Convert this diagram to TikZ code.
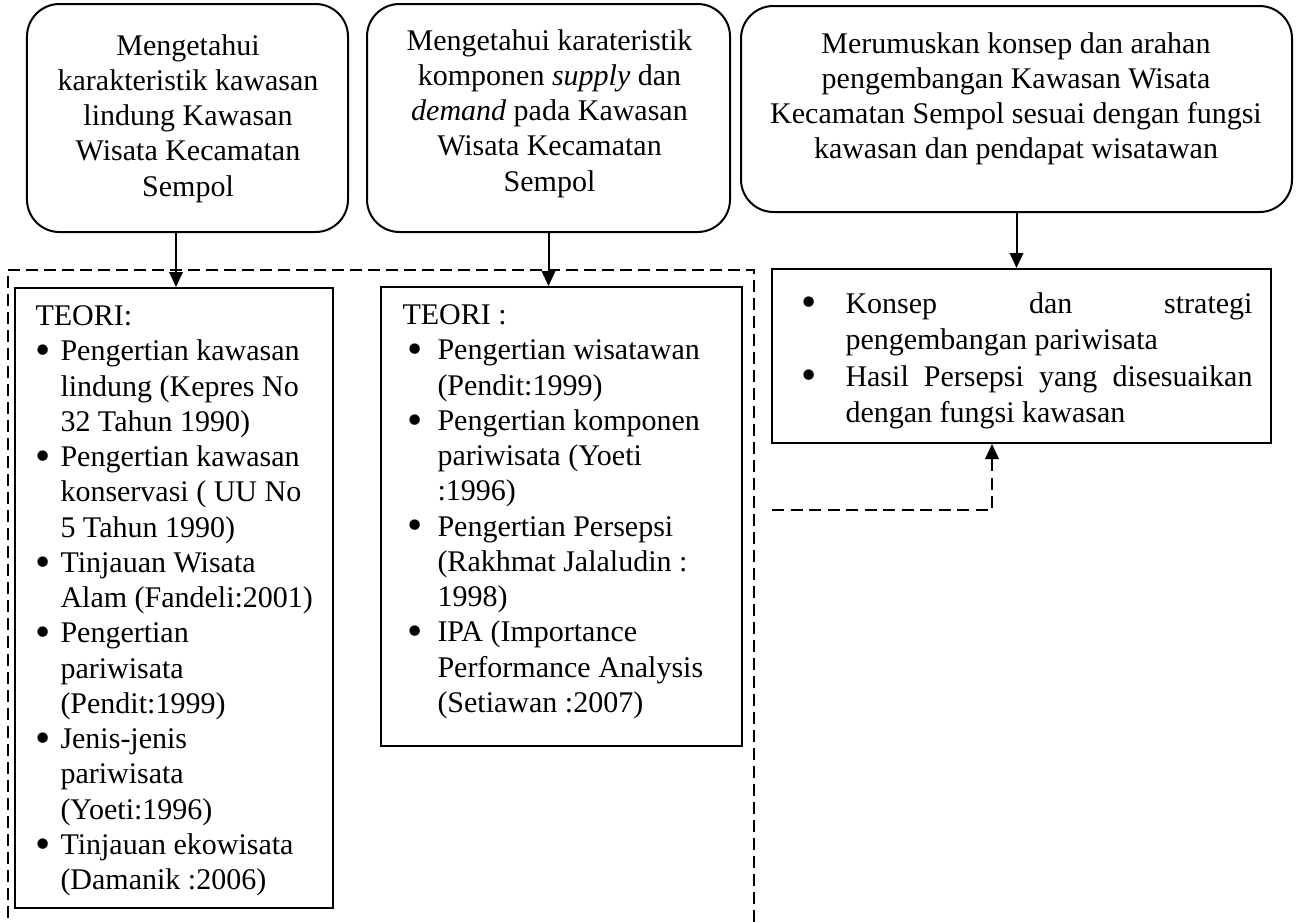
\documentclass[tikz,border=0pt]{standalone}
\usepackage{fontspec}
\setmainfont{Liberation Serif}
\usetikzlibrary{arrows.meta}
\newcommand\bodyfont{\fontsize{12}{14.1}\selectfont}
\newcommand\bodyfontb{\fontsize{12}{14.6}\selectfont}
\newcommand\bigbul{\raisebox{-1.5pt}{\scalebox{1.45}{\textbullet}}}
\newcommand\bl[2]{\hspace*{#1}\makebox[\dimexpr#2-#1\relax][l]{\bigbul}}
\newcommand\ct[1]{\hspace*{#1}}
\tikzset{
  rbox/.style={draw, line width=0.8pt, rounded corners=13pt, fill=white, inner sep=0pt},
  sbox/.style={draw, line width=0.8pt, fill=white, inner sep=0pt},
  txt/.style={inner sep=0pt, font=\bodyfont},
  arr/.style={line width=0.8pt, -{Triangle[length=6pt,width=5.4pt]}},
  darr/.style={line width=0.8pt, dash pattern=on 4.8pt off 2.6pt, -{Triangle[length=6pt,width=5.4pt]}},
  dline/.style={line width=0.6pt, dash pattern=on 4.8pt off 2.4pt}
}
\begin{document}
\begin{tikzpicture}[x=0.4pt,y=-0.4pt]
\useasboundingbox (0,0) rectangle (1299,921);
\fill[white] (0,0) rectangle (1299,921);

% dashed frame
\coordinate (F1) at (8,990);
\coordinate (F2) at (8,270);
\coordinate (F3) at (754,270);
\coordinate (F4) at (754,990);
\draw[dline] (F1) -- (F2) -- (F3) -- (F4);

% top rounded boxes
\node[rbox, minimum width=128.4pt, minimum height=91.2pt] (R1) at (187.5,118) {};
\node[rbox, minimum width=145.2pt, minimum height=91.2pt] (R2) at (548.5,118) {};
\node[rbox, minimum width=220.4pt, minimum height=82.4pt] (R3) at (1016.5,109) {};

\node[txt, anchor=north, align=center] (R1t) at (188,30)
  {\strut Mengetahui\\ karakteristik kawasan\\ lindung Kawasan\\ Wisata Kecamatan\\ Sempol};
\node[txt, anchor=north, align=center] (R2t) at (549.5,25)
  {\strut Mengetahui karateristik\\ komponen \textit{supply} dan\\ \textit{demand} pada Kawasan\\ Wisata Kecamatan\\ Sempol};
\node[txt, anchor=north, align=center] (R3t) at (1016,28)
  {\strut Merumuskan konsep dan arahan\\ pengembangan Kawasan Wisata\\ Kecamatan Sempol sesuai dengan fungsi\\ kawasan dan pendapat wisatawan};

% theory boxes
\node[sbox, minimum width=127.2pt, minimum height=248pt] (T1) at (174,598) {};
\node[sbox, minimum width=144.4pt, minimum height=183.6pt] (T2) at (561.5,516.5) {};
\node[sbox, minimum width=199.6pt, minimum height=69.6pt] (T3) at (1021.5,356) {};

\node[txt, anchor=north west, align=left] (T1t) at (35,300.5)
  {\strut TEORI:\\
   \bl{0pt}{10pt}Pengertian kawasan\\
   \ct{10pt}lindung (Kepres No\\
   \ct{10pt}32 Tahun 1990)\\
   \bl{0pt}{10pt}Pengertian kawasan\\
   \ct{10pt}konservasi ( UU No\\
   \ct{10pt}5 Tahun 1990)\\
   \bl{0pt}{10pt}Tinjauan Wisata\\
   \ct{10pt}Alam (Fandeli:2001)\\
   \bl{0pt}{10pt}Pengertian\\
   \ct{10pt}pariwisata\\
   \ct{10pt}(Pendit:1999)\\
   \bl{0pt}{10pt}Jenis-jenis\\
   \ct{10pt}pariwisata\\
   \ct{10pt}(Yoeti:1996)\\
   \bl{0pt}{10pt}Tinjauan ekowisata\\
   \ct{10pt}(Damanik :2006)};

\node[txt, anchor=north west, align=left] (T2t) at (402,299.5)
  {\strut TEORI :\\
   \bl{2pt}{14pt}Pengertian wisatawan\\
   \ct{14pt}(Pendit:1999)\\
   \bl{2pt}{14pt}Pengertian komponen\\
   \ct{14pt}pariwisata (Yoeti\\
   \ct{14pt}:1996)\\
   \bl{2pt}{14pt}Pengertian Persepsi\\
   \ct{14pt}(Rakhmat Jalaludin :\\
   \ct{14pt}1998)\\
   \bl{2pt}{14pt}IPA (Importance\\
   \ct{14pt}Performance Analysis\\
   \ct{14pt}(Setiawan :2007)};

\node[inner sep=0pt, font=\bodyfontb, anchor=north west, align=left] (T3t) at (801,287)
  {\strut\bl{0pt}{17.6pt}\hbox to 162.8pt{Konsep\hfill dan\hfill strategi}\\
   \ct{17.6pt}pengembangan pariwisata\\
   \bl{0pt}{17.6pt}\hbox to 162.8pt{Hasil\hfill Persepsi\hfill yang\hfill disesuaikan}\\
   \ct{17.6pt}dengan fungsi kawasan};

% connectors
\coordinate (A1) at (176,0);
\draw[arr] (R1.south -| A1) -- (T1.north -| A1);
\draw[arr] (R2.south) -- (T2.north -| R2.south);
\draw[arr] (R3.south) -- (T3.north -| R3.south);
\coordinate (D1) at (772,510);
\coordinate (D2) at (992,510);
\draw[darr] (D1) -- (D2) -- (D2 |- T3.south);
\end{tikzpicture}
\end{document}
